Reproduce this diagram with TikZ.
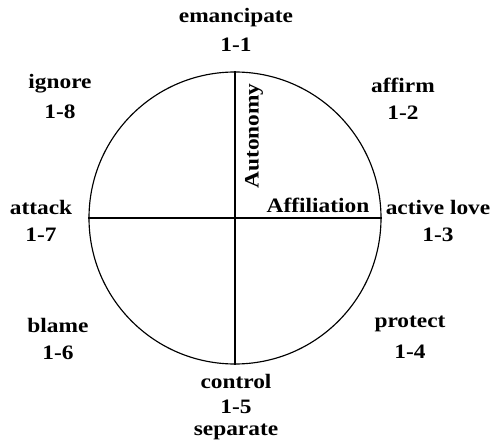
\documentclass[tikz,border=0pt]{standalone}
\usepackage{fontspec}
\setmainfont{Liberation Serif}[FakeStretch=1.14]
\begin{document}
\begin{tikzpicture}[x=1pt,y=-1pt,
  lbl/.style={font=\fontsize{20.5}{22}\selectfont\bfseries, inner sep=0pt, anchor=center},
  ln/.style={line width=1.15pt}]
\useasboundingbox (0,0) rectangle (492,446);
\coordinate (c) at (235,218);
\node[ln, draw, circle, minimum size=292pt, inner sep=0pt] (circ) at (c) {};
\draw[ln] (circ.north) -- (circ.south);
\draw[ln] (circ.west) -- (circ.east);
\node[lbl] (t11) at (236,18) {emancipate};
\node[lbl] (n11) at (236,45) {1-1};
\node[lbl] (t12) at (403,85) {affirm};
\node[lbl] (n12) at (403,113) {1-2};
\node[lbl] (t18) at (60,84) {ignore};
\node[lbl] (n18) at (60,112) {1-8};
\node[lbl, rotate=90] (aut) at (254,136) {Autonomy};
\node[lbl] (aff) at (318,205) {Affiliation};
\node[lbl] (t17) at (41,207) {attack};
\node[lbl] (n17) at (41,235) {1-7};
\node[lbl] (t13) at (438,207) {active love};
\node[lbl] (n13) at (438,235) {1-3};
\node[lbl] (t16) at (58,325) {blame};
\node[lbl] (n16) at (58,353) {1-6};
\node[lbl] (t14) at (410,324) {protect};
\node[lbl] (n14) at (410,352) {1-4};
\node[lbl] (t15) at (236,381) {control};
\node[lbl] (n15) at (236,407) {1-5};
\node[lbl] (t15b) at (236,432) {separate};
\end{tikzpicture}
\end{document}
